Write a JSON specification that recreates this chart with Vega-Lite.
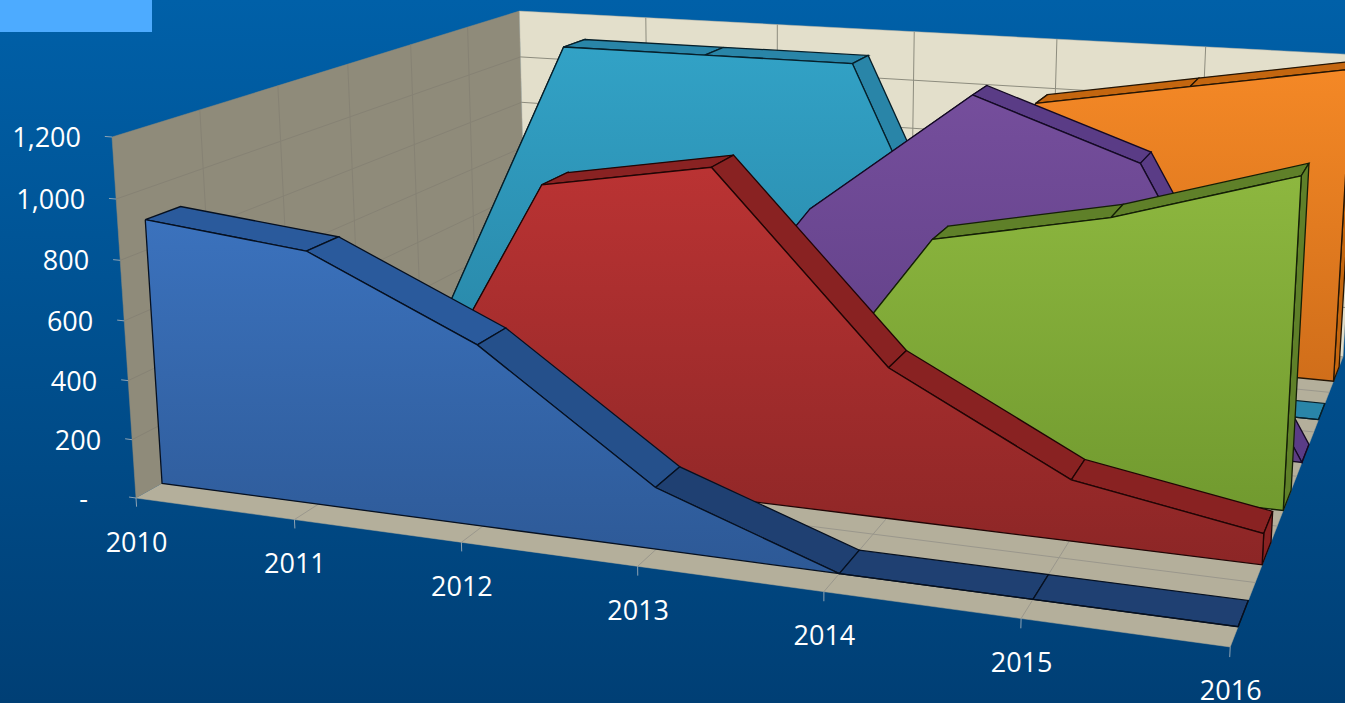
{
  "$schema": "https://vega.github.io/schema/vega-lite/v6.json",
  "width": 1345,
  "height": 703,
  "autosize": "none",
  "padding": 0,
  "background": "#00508f",
  "config": {"view": {"stroke": null}},
  "datasets": {
    "sales": [
      {"series":"Series 1","year":2010,"value":900},{"series":"Series 1","year":2011,"value":845},{"series":"Series 1","year":2012,"value":595},{"series":"Series 1","year":2013,"value":200},{"series":"Series 1","year":2014,"value":0},{"series":"Series 1","year":2015,"value":0},{"series":"Series 1","year":2016,"value":0},
      {"series":"Series 2","year":2010,"value":0},{"series":"Series 2","year":2011,"value":0},{"series":"Series 2","year":2012,"value":1000},{"series":"Series 2","year":2013,"value":1100},{"series":"Series 2","year":2014,"value":500},{"series":"Series 2","year":2015,"value":200},{"series":"Series 2","year":2016,"value":100},
      {"series":"Series 3","year":2010,"value":0},{"series":"Series 3","year":2011,"value":0},{"series":"Series 3","year":2012,"value":0},{"series":"Series 3","year":2013,"value":0},{"series":"Series 3","year":2014,"value":800},{"series":"Series 3","year":2015,"value":920},{"series":"Series 3","year":2016,"value":1100},
      {"series":"Series 4","year":2010,"value":0},{"series":"Series 4","year":2011,"value":0},{"series":"Series 4","year":2012,"value":0},{"series":"Series 4","year":2013,"value":750},{"series":"Series 4","year":2014,"value":1200},{"series":"Series 4","year":2015,"value":1000},{"series":"Series 4","year":2016,"value":0},
      {"series":"Series 5","year":2010,"value":0},{"series":"Series 5","year":2011,"value":1200},{"series":"Series 5","year":2012,"value":1200},{"series":"Series 5","year":2013,"value":1200},{"series":"Series 5","year":2014,"value":0},{"series":"Series 5","year":2015,"value":0},{"series":"Series 5","year":2016,"value":0},
      {"series":"Series 6","year":2010,"value":0},{"series":"Series 6","year":2011,"value":0},{"series":"Series 6","year":2012,"value":0},{"series":"Series 6","year":2013,"value":0},{"series":"Series 6","year":2014,"value":1000},{"series":"Series 6","year":2015,"value":1100},{"series":"Series 6","year":2016,"value":1200}
    ],
    "walls": [
      {"plane":"left","seq":0,"year":2010,"value":0,"slot":0},{"plane":"left","seq":1,"year":2010,"value":1200,"slot":0},{"plane":"left","seq":2,"year":2010,"value":1200,"slot":6},{"plane":"left","seq":3,"year":2010,"value":0,"slot":6},
      {"plane":"back","seq":0,"year":2010,"value":0,"slot":6},{"plane":"back","seq":1,"year":2010,"value":1200,"slot":6},{"plane":"back","seq":2,"year":2016,"value":1200,"slot":6},{"plane":"back","seq":3,"year":2016,"value":0,"slot":6},
      {"plane":"floor","seq":0,"year":2010,"value":0,"slot":0},{"plane":"floor","seq":1,"year":2016,"value":0,"slot":0},{"plane":"floor","seq":2,"year":2016,"value":0,"slot":6},{"plane":"floor","seq":3,"year":2010,"value":0,"slot":6}
    ],
    "gridlines": [
      {"plane":"left","y0":2010,"y1":2010,"v0":0,"v1":1200,"s0":1,"s1":1},{"plane":"left","y0":2010,"y1":2010,"v0":0,"v1":1200,"s0":2,"s1":2},{"plane":"left","y0":2010,"y1":2010,"v0":0,"v1":1200,"s0":3,"s1":3},{"plane":"left","y0":2010,"y1":2010,"v0":0,"v1":1200,"s0":4,"s1":4},{"plane":"left","y0":2010,"y1":2010,"v0":0,"v1":1200,"s0":5,"s1":5},
      {"plane":"left","y0":2010,"y1":2010,"v0":200,"v1":200,"s0":0,"s1":6},{"plane":"left","y0":2010,"y1":2010,"v0":400,"v1":400,"s0":0,"s1":6},{"plane":"left","y0":2010,"y1":2010,"v0":600,"v1":600,"s0":0,"s1":6},{"plane":"left","y0":2010,"y1":2010,"v0":800,"v1":800,"s0":0,"s1":6},{"plane":"left","y0":2010,"y1":2010,"v0":1000,"v1":1000,"s0":0,"s1":6},
      {"plane":"back","y0":2011,"y1":2011,"v0":0,"v1":1200,"s0":6,"s1":6},{"plane":"back","y0":2012,"y1":2012,"v0":0,"v1":1200,"s0":6,"s1":6},{"plane":"back","y0":2013,"y1":2013,"v0":0,"v1":1200,"s0":6,"s1":6},{"plane":"back","y0":2014,"y1":2014,"v0":0,"v1":1200,"s0":6,"s1":6},{"plane":"back","y0":2015,"y1":2015,"v0":0,"v1":1200,"s0":6,"s1":6},
      {"plane":"back","y0":2010,"y1":2016,"v0":200,"v1":200,"s0":6,"s1":6},{"plane":"back","y0":2010,"y1":2016,"v0":400,"v1":400,"s0":6,"s1":6},{"plane":"back","y0":2010,"y1":2016,"v0":600,"v1":600,"s0":6,"s1":6},{"plane":"back","y0":2010,"y1":2016,"v0":800,"v1":800,"s0":6,"s1":6},{"plane":"back","y0":2010,"y1":2016,"v0":1000,"v1":1000,"s0":6,"s1":6},
      {"plane":"floor","y0":2010,"y1":2016,"v0":0,"v1":0,"s0":1,"s1":1},{"plane":"floor","y0":2010,"y1":2016,"v0":0,"v1":0,"s0":2,"s1":2},{"plane":"floor","y0":2010,"y1":2016,"v0":0,"v1":0,"s0":3,"s1":3},{"plane":"floor","y0":2010,"y1":2016,"v0":0,"v1":0,"s0":4,"s1":4},{"plane":"floor","y0":2010,"y1":2016,"v0":0,"v1":0,"s0":5,"s1":5},
      {"plane":"floor","y0":2011,"y1":2011,"v0":0,"v1":0,"s0":0,"s1":6},{"plane":"floor","y0":2012,"y1":2012,"v0":0,"v1":0,"s0":0,"s1":6},{"plane":"floor","y0":2013,"y1":2013,"v0":0,"v1":0,"s0":0,"s1":6},{"plane":"floor","y0":2014,"y1":2014,"v0":0,"v1":0,"s0":0,"s1":6},{"plane":"floor","y0":2015,"y1":2015,"v0":0,"v1":0,"s0":0,"s1":6},
      {"plane":"tick","y0":2010,"y1":2010,"v0":0,"v1":-30,"s0":0,"s1":0},{"plane":"tick","y0":2011,"y1":2011,"v0":0,"v1":-30,"s0":0,"s1":0},{"plane":"tick","y0":2012,"y1":2012,"v0":0,"v1":-30,"s0":0,"s1":0},{"plane":"tick","y0":2013,"y1":2013,"v0":0,"v1":-30,"s0":0,"s1":0},{"plane":"tick","y0":2014,"y1":2014,"v0":0,"v1":-30,"s0":0,"s1":0},{"plane":"tick","y0":2015,"y1":2015,"v0":0,"v1":-30,"s0":0,"s1":0},{"plane":"tick","y0":2016,"y1":2016,"v0":0,"v1":-30,"s0":0,"s1":0},
      {"plane":"tick","y0":2009.955,"y1":2010,"v0":0,"v1":0,"s0":0,"s1":0},{"plane":"tick","y0":2009.955,"y1":2010,"v0":200,"v1":200,"s0":0,"s1":0},{"plane":"tick","y0":2009.955,"y1":2010,"v0":400,"v1":400,"s0":0,"s1":0},{"plane":"tick","y0":2009.955,"y1":2010,"v0":600,"v1":600,"s0":0,"s1":0},{"plane":"tick","y0":2009.955,"y1":2010,"v0":800,"v1":800,"s0":0,"s1":0},{"plane":"tick","y0":2009.955,"y1":2010,"v0":1000,"v1":1000,"s0":0,"s1":0},{"plane":"tick","y0":2009.955,"y1":2010,"v0":1200,"v1":1200,"s0":0,"s1":0}
    ]
  },
  "encoding": {
    "x": {"field": "sx", "type": "quantitative", "axis": null, "scale": {"domain": [0, 1345], "nice": false, "zero": false}},
    "y": {"field": "sy", "type": "quantitative", "axis": null, "scale": {"domain": [0, 703], "reverse": true, "nice": false, "zero": false}}
  },
  "layer": [
    {
      "data": {"values": [{"sx": 0, "sx2": 1345, "sy": 0, "sy2": 703}]},
      "mark": {"type": "rect", "fill": {"gradient": "linear", "x1": 0, "y1": 0, "x2": 0, "y2": 1, "stops": [{"offset": 0, "color": "#0060a8"}, {"offset": 1, "color": "#003f75"}]}},
      "encoding": {"x2": {"field": "sx2"}, "y2": {"field": "sy2"}}
    },
    {
      "data": {"values": [{"sx": 0, "sx2": 152, "sy": 0, "sy2": 32}]},
      "mark": {"type": "rect", "fill": "#4dabff"},
      "encoding": {"x2": {"field": "sx2"}, "y2": {"field": "sy2"}}
    },
    {
      "data": {"name": "walls"},
      "transform": [
        {"calculate": "datum.year-2010", "as": "tt"},
        {"calculate": "datum.value/1200", "as": "vv"},
        {"calculate": "datum.slot/6", "as": "dd"},
        {"calculate": "1-0.02558*datum.tt-0.0365*datum.vv+0.3605*datum.dd", "as": "w"},
        {"calculate": "(136+150.9*datum.tt-28.1*datum.vv+579.7*datum.dd)/datum.w", "as": "sx"},
        {"calculate": "(498+8.28*datum.tt-366*datum.vv-117.3*datum.dd)/datum.w", "as": "sy"}
      ],
      "encoding": {"order": {"field": "seq"}},
      "layer": [
        {"transform": [{"filter": "datum.plane==='left'"}], "mark": {"type": "line", "fill": "#8f8b7a", "stroke": "#8f8b7a", "strokeWidth": 0.5}},
        {"transform": [{"filter": "datum.plane==='back'"}], "mark": {"type": "line", "fill": "#e3dfcb", "stroke": "#b8b5a5", "strokeWidth": 0.5}},
        {"transform": [{"filter": "datum.plane==='floor'"}], "mark": {"type": "line", "fill": "#b4af9b", "stroke": "#b4af9b", "strokeWidth": 0.5}}
      ]
    },
    {
      "data": {"name": "gridlines"},
      "transform": [
        {"calculate": "[0,1]", "as": "end"},
        {"flatten": ["end"]},
        {"calculate": "(datum.end===0?datum.y0:datum.y1)-2010", "as": "tt"},
        {"calculate": "(datum.end===0?datum.v0:datum.v1)/1200", "as": "vv"},
        {"calculate": "(datum.end===0?datum.s0:datum.s1)/6", "as": "dd"},
        {"calculate": "datum.plane+'|'+datum.y0+'|'+datum.y1+'|'+datum.v0+'|'+datum.s0", "as": "gridId"},
        {"calculate": "1-0.02558*datum.tt-0.0365*datum.vv+0.3605*datum.dd", "as": "w"},
        {"calculate": "(136+150.9*datum.tt-28.1*datum.vv+579.7*datum.dd)/datum.w", "as": "sx"},
        {"calculate": "(498+8.28*datum.tt-366*datum.vv-117.3*datum.dd)/datum.w", "as": "sy"}
      ],
      "mark": {"type": "line", "strokeWidth": 1},
      "encoding": {
        "detail": {"field": "gridId"},
        "order": {"field": "end"},
        "color": {"field": "plane", "type": "nominal", "legend": null, "scale": {"domain": ["left", "back", "floor", "tick"], "range": ["#868274", "#8d8c7e", "#9a978c", "#8fa3b3"]}}
      }
    },
    {
      "data": {"name": "sales"},
      "transform": [
        {"window": [{"op": "lead", "field": "value", "as": "nextValue"}], "groupby": ["series"], "sort": [{"field": "year"}]},
        {"calculate": "indexof(['Series 1','Series 2','Series 3','Series 4','Series 5','Series 6'],datum.series)", "as": "rank"},
        {"calculate": "['front','strip','cap']", "as": "part"},
        {"flatten": ["part"]},
        {"calculate": "datum.part==='front'?(datum.year===2010?[0,1,2]:[0,1]):datum.part==='strip'?(datum.year<2016?[0,1,2,3,4]:[]):(datum.year===2016?[0,1,2,3,4]:[])", "as": "corner"},
        {"flatten": ["corner"]},
        {"calculate": "datum.part==='strip'?datum.series+datum.year:datum.series+datum.part", "as": "poly"},
        {"calculate": "datum.part==='front'?(datum.corner===0?datum.year-2010:datum.corner===1?100-(datum.year-2010):200):datum.corner", "as": "seq"},
        {"calculate": "datum.year-2010+((datum.part==='strip'&&(datum.corner===1||datum.corner===2))?1:0)", "as": "tt"},
        {"calculate": "(datum.part==='front'?(datum.corner===1?0:datum.value):datum.part==='strip'?((datum.corner===1||datum.corner===2)?datum.nextValue:datum.value):((datum.corner===2||datum.corner===3)?0:datum.value))/1200", "as": "vv"},
        {"calculate": "datum.rank/6+((datum.part!=='front'&&(datum.part==='strip'?(datum.corner===2||datum.corner===3):(datum.corner===1||datum.corner===2)))?0.118:0.05)", "as": "dd"},
        {"calculate": "1-0.02558*datum.tt-0.0365*datum.vv+0.3605*datum.dd", "as": "w"},
        {"calculate": "(136+150.9*datum.tt-28.1*datum.vv+579.7*datum.dd)/datum.w", "as": "sx"},
        {"calculate": "(498+8.28*datum.tt-366*datum.vv-117.3*datum.dd)/datum.w", "as": "sy"}
      ],
      "encoding": {"detail": {"field": "poly"}, "order": {"field": "seq"}},
      "layer": [
        {"transform": [{"filter": "datum.series==='Series 6'&&datum.part!=='front'"}], "mark": {"type": "line", "fill": "#c4660f", "stroke": "#241505", "strokeWidth": 1.3}},
        {"transform": [{"filter": "datum.series==='Series 6'&&datum.part==='front'"}], "mark": {"type": "line", "stroke": "#241505", "strokeWidth": 1.3, "fill": {"gradient": "linear", "x1": 0, "y1": 0, "x2": 0, "y2": 1, "stops": [{"offset": 0, "color": "#f48826"}, {"offset": 1, "color": "#d06e1a"}]}}},
        {"transform": [{"filter": "datum.series==='Series 5'&&datum.part!=='front'"}], "mark": {"type": "line", "fill": "#2985a8", "stroke": "#061f2a", "strokeWidth": 1.3}},
        {"transform": [{"filter": "datum.series==='Series 5'&&datum.part==='front'"}], "mark": {"type": "line", "stroke": "#061f2a", "strokeWidth": 1.3, "fill": {"gradient": "linear", "x1": 0, "y1": 0, "x2": 0, "y2": 1, "stops": [{"offset": 0, "color": "#32a2c6"}, {"offset": 1, "color": "#2782a2"}]}}},
        {"transform": [{"filter": "datum.series==='Series 4'&&datum.part!=='front'"}], "mark": {"type": "line", "fill": "#5a3c86", "stroke": "#140a24", "strokeWidth": 1.3}},
        {"transform": [{"filter": "datum.series==='Series 4'&&datum.part==='front'"}], "mark": {"type": "line", "stroke": "#140a24", "strokeWidth": 1.3, "fill": {"gradient": "linear", "x1": 0, "y1": 0, "x2": 0, "y2": 1, "stops": [{"offset": 0, "color": "#754e9c"}, {"offset": 1, "color": "#5c3d82"}]}}},
        {"transform": [{"filter": "datum.series==='Series 3'&&datum.part!=='front'"}], "mark": {"type": "line", "fill": "#5f8029", "stroke": "#141f06", "strokeWidth": 1.3}},
        {"transform": [{"filter": "datum.series==='Series 3'&&datum.part==='front'"}], "mark": {"type": "line", "stroke": "#141f06", "strokeWidth": 1.3, "fill": {"gradient": "linear", "x1": 0, "y1": 0, "x2": 0, "y2": 1, "stops": [{"offset": 0, "color": "#8db73f"}, {"offset": 1, "color": "#719a2f"}]}}},
        {"transform": [{"filter": "datum.series==='Series 2'&&datum.part!=='front'"}], "mark": {"type": "line", "fill": "#892222", "stroke": "#200505", "strokeWidth": 1.3}},
        {"transform": [{"filter": "datum.series==='Series 2'&&datum.part==='front'"}], "mark": {"type": "line", "stroke": "#200505", "strokeWidth": 1.3, "fill": {"gradient": "linear", "x1": 0, "y1": 0, "x2": 0, "y2": 1, "stops": [{"offset": 0, "color": "#ba3333"}, {"offset": 1, "color": "#8c2626"}]}}},
        {"transform": [{"filter": "datum.series==='Series 1'&&datum.part!=='front'&&datum.year<=2011"}], "mark": {"type": "line", "fill": "#2a5a9c", "stroke": "#061020", "strokeWidth": 1.3}},
        {"transform": [{"filter": "datum.series==='Series 1'&&datum.part!=='front'&&datum.year===2012"}], "mark": {"type": "line", "fill": "#25508b", "stroke": "#061020", "strokeWidth": 1.3}},
        {"transform": [{"filter": "datum.series==='Series 1'&&datum.part!=='front'&&datum.year>=2013"}], "mark": {"type": "line", "fill": "#1f4072", "stroke": "#061020", "strokeWidth": 1.3}},
        {"transform": [{"filter": "datum.series==='Series 1'&&datum.part==='front'"}], "mark": {"type": "line", "stroke": "#061020", "strokeWidth": 1.3, "fill": {"gradient": "linear", "x1": 0, "y1": 0, "x2": 0, "y2": 1, "stops": [{"offset": 0, "color": "#3b72bd"}, {"offset": 1, "color": "#2b5590"}]}}}
      ]
    },
    {
      "data": {"values": [{"year": 2010}, {"year": 2011}, {"year": 2012}, {"year": 2013}, {"year": 2014}, {"year": 2015}, {"year": 2016}]},
      "transform": [
        {"calculate": "datum.year-2010", "as": "tt"},
        {"calculate": "1-0.02558*datum.tt", "as": "w"},
        {"calculate": "(136+150.9*datum.tt)/datum.w", "as": "sx"},
        {"calculate": "(498+8.28*datum.tt)/datum.w", "as": "sy"}
      ],
      "mark": {"type": "text", "font": "Open Sans", "fontSize": 27, "color": "#ffffff", "dy": 45.5, "dx": 0.5, "baseline": "middle", "align": "center"},
      "encoding": {"text": {"field": "year", "type": "nominal"}}
    },
    {
      "data": {"values": [{"value": 0}, {"value": 200}, {"value": 400}, {"value": 600}, {"value": 800}, {"value": 1000}, {"value": 1200}]},
      "transform": [
        {"calculate": "datum.value/1200", "as": "vv"},
        {"calculate": "1-0.0365*datum.vv", "as": "w"},
        {"calculate": "(136-28.1*datum.vv)/datum.w", "as": "sx"},
        {"calculate": "(498-366*datum.vv)/datum.w", "as": "sy"},
        {"calculate": "datum.value===0?'-':format(datum.value,',')", "as": "label"}
      ],
      "encoding": {"text": {"field": "label", "type": "nominal"}},
      "layer": [
        {"transform": [{"filter": "datum.value>0"}], "mark": {"type": "text", "font": "Open Sans", "fontSize": 27, "color": "#ffffff", "dx": -31, "dy": 2, "baseline": "middle", "align": "right"}},
        {"transform": [{"filter": "datum.value===0"}], "mark": {"type": "text", "font": "Open Sans", "fontSize": 27, "color": "#ffffff", "dx": -48, "dy": 2, "baseline": "middle", "align": "right"}}
      ]
    }
  ]
}
